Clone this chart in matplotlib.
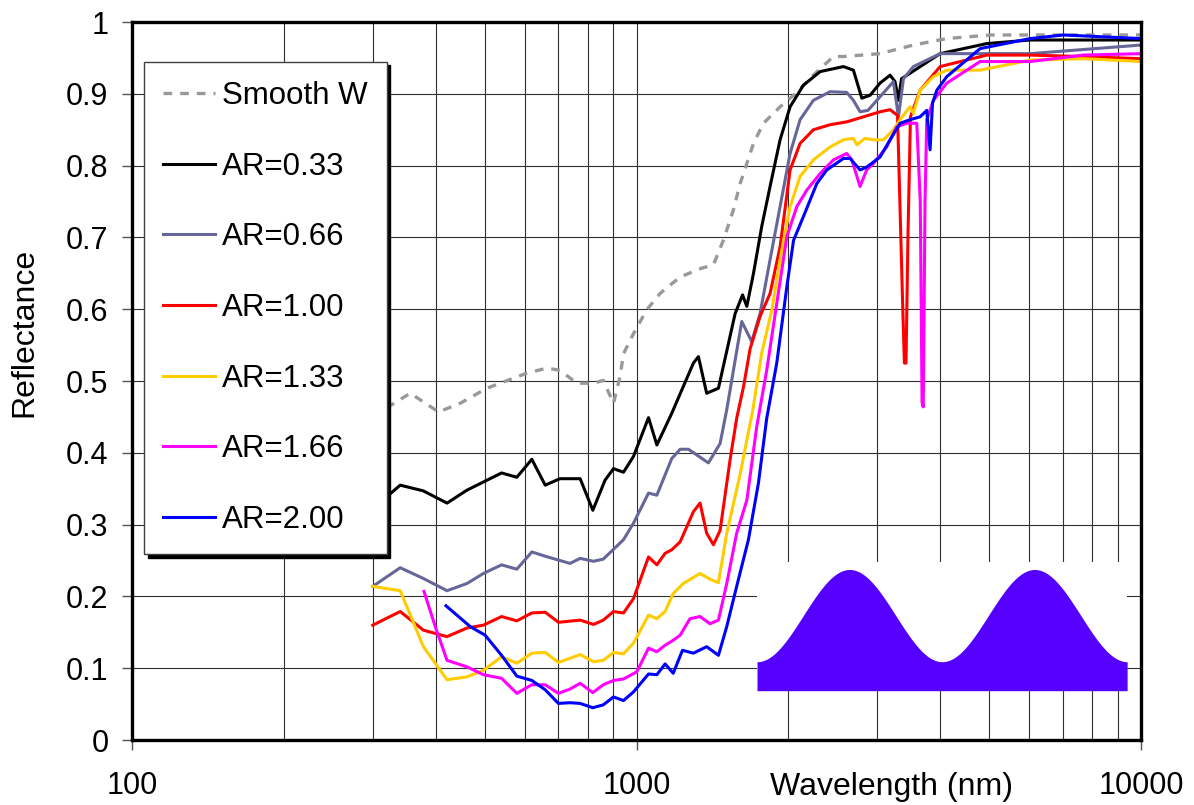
import numpy as np
import matplotlib
matplotlib.use('Agg')
import matplotlib.pyplot as plt
from matplotlib.ticker import LogLocator, NullFormatter

plt.rcParams['font.family'] = ['Liberation Sans', 'DejaVu Sans']
plt.rcParams['font.size'] = 22

# reflectance spectra, wavelength in nm
wl_smooth = [300, 327, 356, 405, 447, 505, 606, 664, 705, 761, 822, 859, 900, 927, 942, 986,
             1047, 1113, 1220, 1344, 1420, 1486, 1555, 1604, 1654, 1705, 1784, 1925, 2047,
             2241, 2455, 2570, 3038, 3537, 4120, 5020, 7000, 10000]
r_smooth = [0.45, 0.467, 0.483, 0.457, 0.469, 0.490, 0.511, 0.518, 0.515, 0.497, 0.497, 0.501,
            0.469, 0.506, 0.538, 0.566, 0.599, 0.622, 0.645, 0.657, 0.662, 0.696, 0.738, 0.775,
            0.803, 0.831, 0.859, 0.882, 0.898, 0.926, 0.952, 0.952, 0.956, 0.968, 0.977, 0.982,
            0.982, 0.982]

wl_033 = [300, 314, 340, 378, 421, 461, 540, 579, 620, 659, 705, 773, 819, 866, 900, 942, 986,
          1056, 1097, 1174, 1296, 1326, 1377, 1453, 1568, 1622, 1654, 1705, 1770, 1839, 1925,
          2015, 2141, 2311, 2570, 2690, 2795, 2903, 3038, 3180, 3253, 3304, 3350, 3996, 4943,
          6026, 10000]
r_033 = [0.33, 0.334, 0.355, 0.347, 0.330, 0.348, 0.372, 0.366, 0.391, 0.355, 0.364, 0.364,
         0.320, 0.362, 0.378, 0.373, 0.395, 0.449, 0.411, 0.455, 0.525, 0.534, 0.483, 0.490,
         0.594, 0.620, 0.604, 0.650, 0.715, 0.771, 0.836, 0.882, 0.912, 0.931, 0.938, 0.933,
         0.894, 0.898, 0.915, 0.926, 0.917, 0.891, 0.921, 0.956, 0.970, 0.975, 0.975]

wl_066 = [300, 340, 378, 421, 461, 497, 540, 579, 620, 659, 738, 773, 822, 859, 942, 986, 1056,
          1097, 1174, 1220, 1267, 1388, 1464, 1509, 1568, 1616, 1691, 1757, 1839, 1925, 2015,
          2109, 2241, 2418, 2609, 2690, 2773, 2875, 3038, 3229, 3304, 3380, 3537, 3996, 4869,
          6026, 10000]
r_066 = [0.214, 0.240, 0.225, 0.208, 0.218, 0.232, 0.244, 0.238, 0.262, 0.256, 0.246, 0.253,
         0.249, 0.252, 0.279, 0.302, 0.344, 0.341, 0.392, 0.405, 0.405, 0.386, 0.413, 0.460,
         0.529, 0.583, 0.555, 0.594, 0.669, 0.743, 0.817, 0.864, 0.891, 0.903, 0.902, 0.891,
         0.875, 0.877, 0.896, 0.917, 0.868, 0.921, 0.938, 0.956, 0.956, 0.956, 0.968]

wl_100 = [300, 340, 378, 421, 461, 497, 540, 579, 620, 659, 700, 773, 822, 859, 900, 942, 986,
          1056, 1097, 1139, 1174, 1220, 1296, 1336, 1377, 1420, 1464, 1532, 1579, 1629, 1679,
          1757, 1839, 1925, 2015, 2109, 2241, 2418, 2609, 2815, 3038, 3180, 3290, 3370, 3395,
          3420, 3450, 3490, 3647, 3996, 4943, 6026, 7600, 10000]
r_100 = [0.160, 0.179, 0.153, 0.144, 0.156, 0.160, 0.172, 0.166, 0.177, 0.178, 0.164, 0.167,
         0.161, 0.167, 0.179, 0.177, 0.197, 0.255, 0.244, 0.260, 0.265, 0.276, 0.318, 0.330,
         0.288, 0.272, 0.292, 0.390, 0.448, 0.492, 0.545, 0.590, 0.622, 0.687, 0.794, 0.831,
         0.850, 0.857, 0.861, 0.868, 0.875, 0.878, 0.870, 0.600, 0.525, 0.525, 0.700, 0.868,
         0.905, 0.938, 0.954, 0.954, 0.952, 0.949]

wl_133 = [300, 340, 378, 421, 461, 497, 540, 579, 620, 659, 700, 773, 822, 859, 900, 942, 986,
          1056, 1097, 1139, 1182, 1237, 1336, 1398, 1453, 1509, 1604, 1700, 1770, 1854, 1925,
          2015, 2109, 2241, 2418, 2570, 2690, 2733, 2837, 2947, 3085, 3229, 3329, 3483, 3537,
          3647, 3876, 4120, 4796, 6026, 7687, 10000]
r_133 = [0.214, 0.208, 0.130, 0.084, 0.088, 0.097, 0.116, 0.107, 0.121, 0.122, 0.108, 0.119,
         0.109, 0.111, 0.122, 0.120, 0.135, 0.174, 0.169, 0.179, 0.204, 0.218, 0.232, 0.224,
         0.219, 0.288, 0.370, 0.460, 0.539, 0.599, 0.669, 0.743, 0.785, 0.808, 0.826, 0.836,
         0.838, 0.829, 0.838, 0.836, 0.836, 0.850, 0.864, 0.882, 0.873, 0.905, 0.924, 0.933,
         0.933, 0.947, 0.949, 0.945]

wl_166 = [379, 399, 421, 461, 497, 540, 579, 620, 659, 700, 738, 773, 819, 859, 900, 942, 1001,
          1056, 1097, 1139, 1182, 1220, 1276, 1336, 1398, 1453, 1509, 1579, 1654, 1730, 1811,
          1896, 1985, 2078, 2175, 2311, 2455, 2609, 2670, 2773, 2858, 2947, 3131, 3277, 3431,
          3592, 3650, 3680, 3700, 3730, 3760, 3876, 4120, 4796, 6026, 7687, 10000]
r_166 = [0.207, 0.158, 0.111, 0.102, 0.091, 0.086, 0.065, 0.077, 0.077, 0.065, 0.071, 0.079,
         0.066, 0.077, 0.083, 0.085, 0.095, 0.128, 0.123, 0.132, 0.139, 0.146, 0.169, 0.172,
         0.162, 0.167, 0.218, 0.288, 0.334, 0.436, 0.515, 0.608, 0.701, 0.743, 0.766, 0.789,
         0.808, 0.817, 0.808, 0.771, 0.794, 0.803, 0.826, 0.854, 0.859, 0.859, 0.750, 0.470,
         0.464, 0.750, 0.864, 0.891, 0.915, 0.945, 0.945, 0.954, 0.956]

wl_200 = [419, 468, 501, 540, 579, 620, 659, 700, 738, 773, 819, 859, 900, 942, 986, 1056, 1097,
          1139, 1182, 1233, 1296, 1377, 1453, 1509, 1579, 1666, 1744, 1811, 1896, 1985, 2047,
          2141, 2276, 2382, 2570, 2650, 2773, 2858, 3038, 3180, 3329, 3483, 3647, 3760, 3817,
          3860, 3936, 4120, 4796, 6026, 7016, 10000]
r_200 = [0.187, 0.158, 0.146, 0.118, 0.089, 0.083, 0.070, 0.051, 0.052, 0.051, 0.045, 0.049,
         0.060, 0.055, 0.067, 0.092, 0.091, 0.106, 0.093, 0.125, 0.121, 0.130, 0.118, 0.158,
         0.214, 0.279, 0.358, 0.448, 0.525, 0.631, 0.696, 0.729, 0.775, 0.794, 0.810, 0.810,
         0.794, 0.798, 0.812, 0.836, 0.859, 0.864, 0.868, 0.877, 0.822, 0.887, 0.905, 0.924,
         0.963, 0.977, 0.982, 0.977]

series = [
    (wl_033, r_033, 'AR=0.33', '#000000'),
    (wl_066, r_066, 'AR=0.66', '#666699'),
    (wl_100, r_100, 'AR=1.00', '#FF0000'),
    (wl_133, r_133, 'AR=1.33', '#FFCC00'),
    (wl_166, r_166, 'AR=1.66', '#FF00FF'),
    (wl_200, r_200, 'AR=2.00', '#0000FF'),
]

y_ticks = [0, 0.1, 0.2, 0.3, 0.4, 0.5, 0.6, 0.7, 0.8, 0.9, 1]
y_labels = ['0', '0.1', '0.2', '0.3', '0.4', '0.5', '0.6', '0.7', '0.8', '0.9', '1']
x_ticks = [100, 1000, 10000]
x_labels = ['100', '1000', '10000']

fig = plt.figure(figsize=(11.94, 8.05), dpi=100)
ax = fig.add_axes([0.1106, 0.0807, 0.8451, 0.8919])

ax.plot(wl_smooth, r_smooth, color='#999999', lw=2.4, dashes=(2.6, 2.4), label='Smooth W')
for wl, r, name, col in series:
    ax.plot(wl, r, color=col, lw=2.2, label=name)

ax.set_xscale('log')
ax.set_xlim(100, 10000)
ax.set_ylim(0, 1)
ax.set_xticks(x_ticks, labels=x_labels)
ax.xaxis.set_minor_locator(LogLocator(base=10, subs=range(2, 10)))
ax.xaxis.set_minor_formatter(NullFormatter())
ax.set_yticks(y_ticks, labels=y_labels)
ax.tick_params(which='minor', length=0)
ax.tick_params(axis='x', which='major', length=7, width=1, color='#555555', pad=15)
ax.tick_params(axis='y', which='major', length=7, width=1, color='#555555', pad=10)
ax.grid(which='both', color='#303030', lw=0.8)
ax.set_axisbelow(True)
for s in ax.spines.values():
    s.set_linewidth(2.4)
    s.set_color('black')

ax.set_xlabel('Wavelength (nm)', fontsize=23)
ax.xaxis.set_label_coords(0.753, -0.044)
ax.set_ylabel('Reflectance', fontsize=23)
ax.yaxis.label.set_va('center')
ax.yaxis.set_label_coords(-0.107, 0.568)

leg = ax.legend(loc='upper left', bbox_to_anchor=(0.0119, 0.9447), borderaxespad=0,
                fontsize=22.5, handlelength=1.66, handletextpad=0.21, borderpad=0.62,
                labelspacing=1.30, fancybox=False, framealpha=1,
                shadow={'ox': 2.5, 'oy': -2.5, 'color': 'black', 'alpha': 1})
leg.get_frame().set_edgecolor('#404040')
leg.get_frame().set_linewidth(1)

# inset sketch of the surface profile
n_periods = 2
trough, peak = 0.225, 0.941
ins = fig.add_axes([0.634, 0.142, 0.310, 0.160])
xs = np.linspace(0, 1, 400)
profile = trough + (peak - trough) * (1 - np.cos(2 * np.pi * n_periods * xs)) / 2
ins.fill_between(xs, 0, profile, color='#5500FF', lw=0)
ins.set_xlim(0, 1)
ins.set_ylim(0, 1)
ins.set_xticks([])
ins.set_yticks([])
for s in ins.spines.values():
    s.set_visible(False)

fig.savefig('out.png', dpi=100)
